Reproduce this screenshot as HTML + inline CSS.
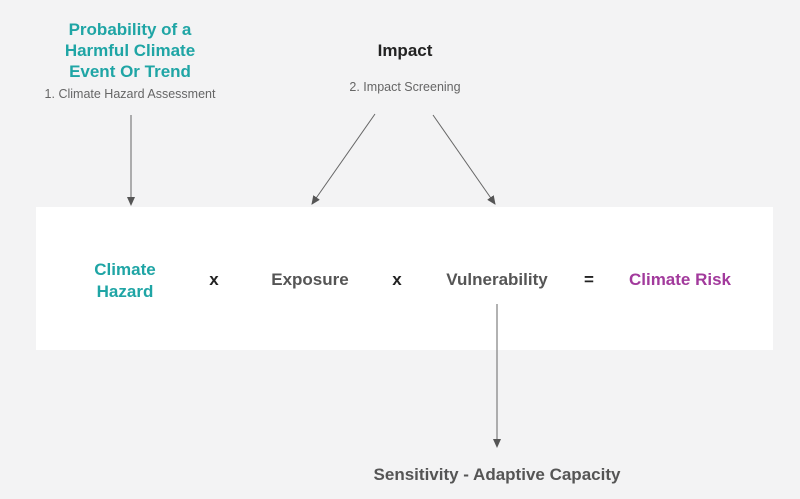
<!DOCTYPE html>
<html><head><meta charset="utf-8"><style>
html,body{margin:0;padding:0}
body{width:800px;height:499px;background:#f3f3f4;position:relative;overflow:hidden;font-family:"Liberation Sans",Arial,sans-serif}
.t{position:absolute;white-space:nowrap;text-align:center}
.box{position:absolute;left:36px;top:207px;width:737px;height:143px;background:#fff}
.b{font-weight:bold;font-size:17px}
</style></head><body>
<div class="box"></div>
<div class="t b" style="left:30px;width:200px;top:19px;color:#1fa5a5;font-size:17px;line-height:21px">Probability of a<br>Harmful Climate<br>Event Or Trend</div>
<div class="t" style="left:30px;width:200px;top:87px;color:#666;font-size:12.5px">1. Climate Hazard Assessment</div>
<div class="t b" style="left:305px;width:200px;top:41px;color:#222">Impact</div>
<div class="t" style="left:305px;width:200px;top:80px;color:#666;font-size:12.5px">2. Impact Screening</div>
<div class="t b" style="left:75px;width:100px;top:259px;color:#1fa5a5;line-height:22px">Climate<br>Hazard</div>
<div class="t b" style="left:204px;width:20px;top:270px;color:#222">x</div>
<div class="t b" style="left:260px;width:100px;top:270px;color:#555">Exposure</div>
<div class="t b" style="left:387px;width:20px;top:270px;color:#222">x</div>
<div class="t b" style="left:432px;width:130px;top:270px;color:#555">Vulnerability</div>
<div class="t b" style="left:579px;width:20px;top:270px;color:#222">=</div>
<div class="t b" style="left:615px;width:130px;top:270px;color:#a23a9c">Climate Risk</div>
<div class="t b" style="left:347px;width:300px;top:465px;color:#555">Sensitivity - Adaptive Capacity</div>
<svg width="800" height="499" style="position:absolute;left:0;top:0">
<defs><marker id="a" markerWidth="10" markerHeight="10" refX="8" refY="5" orient="auto" markerUnits="userSpaceOnUse"><path d="M0,1 L9,5 L0,9z" fill="#555"/></marker></defs>
<g stroke="#666" stroke-width="1" fill="none">
<line x1="131" y1="115" x2="131" y2="205" marker-end="url(#a)"/>
<line x1="375" y1="114" x2="312" y2="204" marker-end="url(#a)"/>
<line x1="433" y1="115" x2="495" y2="204" marker-end="url(#a)"/>
<line x1="497" y1="304" x2="497" y2="447" marker-end="url(#a)"/>
</g></svg>
</body></html>
